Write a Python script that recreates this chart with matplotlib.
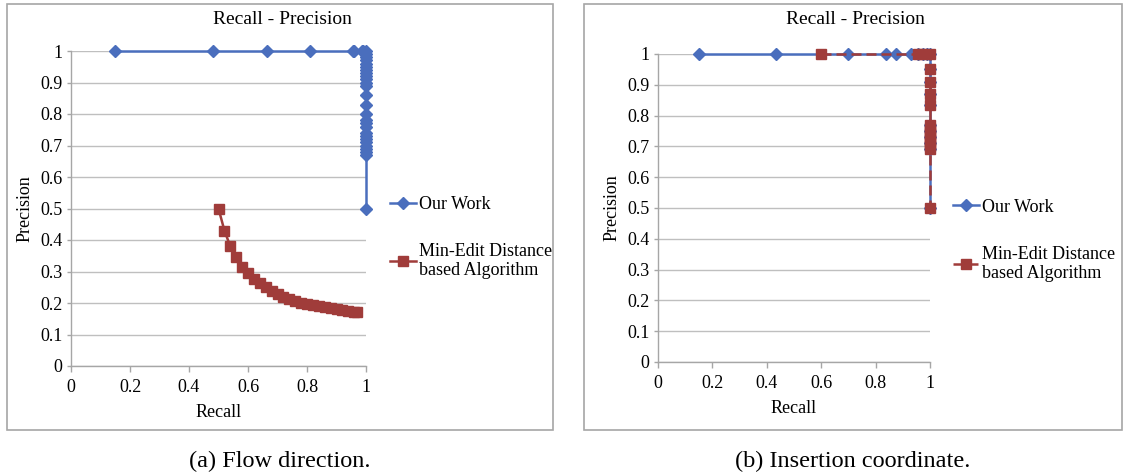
import matplotlib
matplotlib.use("Agg")
import matplotlib.pyplot as plt
from matplotlib.patches import Rectangle

plt.rcParams['font.family'] = ['Liberation Serif', 'DejaVu Serif']

# ---- data ----
a_ours_recall = [0.15, 0.48, 0.665, 0.81, 0.955, 0.96, 0.985, 0.99] + [1.0] * 27
a_ours_prec = [1.0] * 8 + [1.0, 0.99, 0.98, 0.97, 0.96, 0.95, 0.94, 0.93, 0.92, 0.91, 0.90,
                           0.89, 0.86, 0.83, 0.80, 0.78, 0.77, 0.76, 0.74, 0.73, 0.72, 0.71,
                           0.70, 0.69, 0.68, 0.67, 0.50]
a_med_recall = [0.50, 0.52, 0.54, 0.56, 0.58, 0.60, 0.62, 0.64, 0.66, 0.68, 0.70, 0.72,
                0.74, 0.76, 0.78, 0.80, 0.82, 0.84, 0.86, 0.88, 0.90, 0.92, 0.94, 0.96, 0.97]
a_med_prec = [0.50, 0.43, 0.38, 0.345, 0.315, 0.295, 0.277, 0.262, 0.25, 0.238, 0.228, 0.22,
              0.213, 0.207, 0.201, 0.197, 0.193, 0.189, 0.186, 0.183, 0.180, 0.177, 0.175,
              0.173, 0.171]

b_ours_recall = [0.15, 0.435, 0.70, 0.84, 0.875, 0.93, 0.955, 0.975, 0.99] + [1.0] * 11
b_ours_prec = [1.0] * 9 + [1.0, 0.95, 0.91, 0.87, 0.835, 0.77, 0.75, 0.73, 0.71, 0.69, 0.50]
b_med_recall = [0.60, 0.955, 0.97] + [1.0] * 15
b_med_prec = [1.0, 1.0, 1.0, 1.0, 0.952, 0.909, 0.87, 0.833, 0.769, 0.76, 0.75, 0.74,
              0.73, 0.72, 0.71, 0.70, 0.69, 0.50]

x_ticks = [0, 0.2, 0.4, 0.6, 0.8, 1]
x_ticklabels = ['0', '0.2', '0.4', '0.6', '0.8', '1']
y_ticks = [0, 0.1, 0.2, 0.3, 0.4, 0.5, 0.6, 0.7, 0.8, 0.9, 1]
y_ticklabels = ['0', '0.1', '0.2', '0.3', '0.4', '0.5', '0.6', '0.7', '0.8', '0.9', '1']

title = 'Recall - Precision'
series_names = ['Our Work', 'Min-Edit Distance\nbased Algorithm']
captions = ['(a) Flow direction.', '(b) Insertion coordinate.']

BLUE = '#4A6EBD'
RED = '#A03C3A'
GRID = '#BFBFBF'
SPINE = '#A6A6A6'

W, H = 1126, 476
fig = plt.figure(figsize=(W / 100, H / 100), dpi=100)


def fx(px):
    return px / W


def fy(py):
    return 1 - py / H


def style_axes(ax):
    ax.set_xlim(0, 1)
    ax.set_ylim(0, 1)
    ax.set_xticks(x_ticks)
    ax.set_xticklabels(x_ticklabels)
    ax.set_yticks(y_ticks)
    ax.set_yticklabels(y_ticklabels)
    for s in ['top', 'right']:
        ax.spines[s].set_visible(False)
    for s in ['left', 'bottom']:
        ax.spines[s].set_color(SPINE)
        ax.spines[s].set_linewidth(1.0)
    ax.yaxis.grid(True, color=GRID, linewidth=1.0)
    ax.set_axisbelow(True)
    ax.tick_params(axis='both', colors=SPINE, labelcolor='black', labelsize=13,
                   width=1.0, direction='out')
    ax.tick_params(axis='x', length=4, pad=5)
    ax.tick_params(axis='y', length=3, pad=3)
    ax.set_xlabel('Recall', fontsize=13, labelpad=6)
    ax.set_ylabel('Precision', fontsize=13, labelpad=5)


# boxes
for (l, r) in [(7, 553), (584, 1122)]:
    fig.add_artist(Rectangle((fx(l), fy(430)), fx(r) - fx(l), fy(4) - fy(430),
                             transform=fig.transFigure, fill=False,
                             edgecolor='#A6A6A6', linewidth=1.2))

leg_kw = dict(loc='upper left', frameon=False, fontsize=13, handlelength=1.45,
              handletextpad=0.15, labelspacing=1.65, borderaxespad=0, borderpad=0)

# left chart
ax1 = fig.add_axes([fx(71), fy(366), fx(366) - fx(71), fy(51) - fy(366)])
style_axes(ax1)
ax1.plot(a_ours_recall, a_ours_prec, color=BLUE, linewidth=1.8, marker='D',
         markersize=6.5, label=series_names[0], clip_on=False, zorder=3)
ax1.plot(a_med_recall, a_med_prec, color=RED, linewidth=1.8, marker='s',
         markersize=6.5, label=series_names[1], clip_on=False, zorder=3)
ax1.legend(bbox_to_anchor=(1.081, 0.540), **leg_kw)

# right chart
ax2 = fig.add_axes([fx(658), fy(362), fx(930) - fx(658), fy(54) - fy(362)])
style_axes(ax2)
ax2.plot(b_ours_recall, b_ours_prec, color=BLUE, linewidth=1.8, marker='D',
         markersize=6.5, label=series_names[0], clip_on=False, zorder=3)
ax2.plot(b_med_recall, b_med_prec, color=RED, linewidth=1.8, linestyle=(0, (4, 2)),
         marker='s', markersize=7, label=series_names[1], clip_on=False, zorder=4)
ax2.legend(bbox_to_anchor=(1.085, 0.530), **leg_kw)

# titles
fig.text(fx(282), fy(20), title, ha='center', va='center', fontsize=14)
fig.text(fx(855), fy(20), title, ha='center', va='center', fontsize=14)

# captions
fig.text(fx(280), fy(461), captions[0], ha='center', va='center', fontsize=17.5)
fig.text(fx(853), fy(461), captions[1], ha='center', va='center', fontsize=17.5)

fig.savefig('out.png', dpi=100)
